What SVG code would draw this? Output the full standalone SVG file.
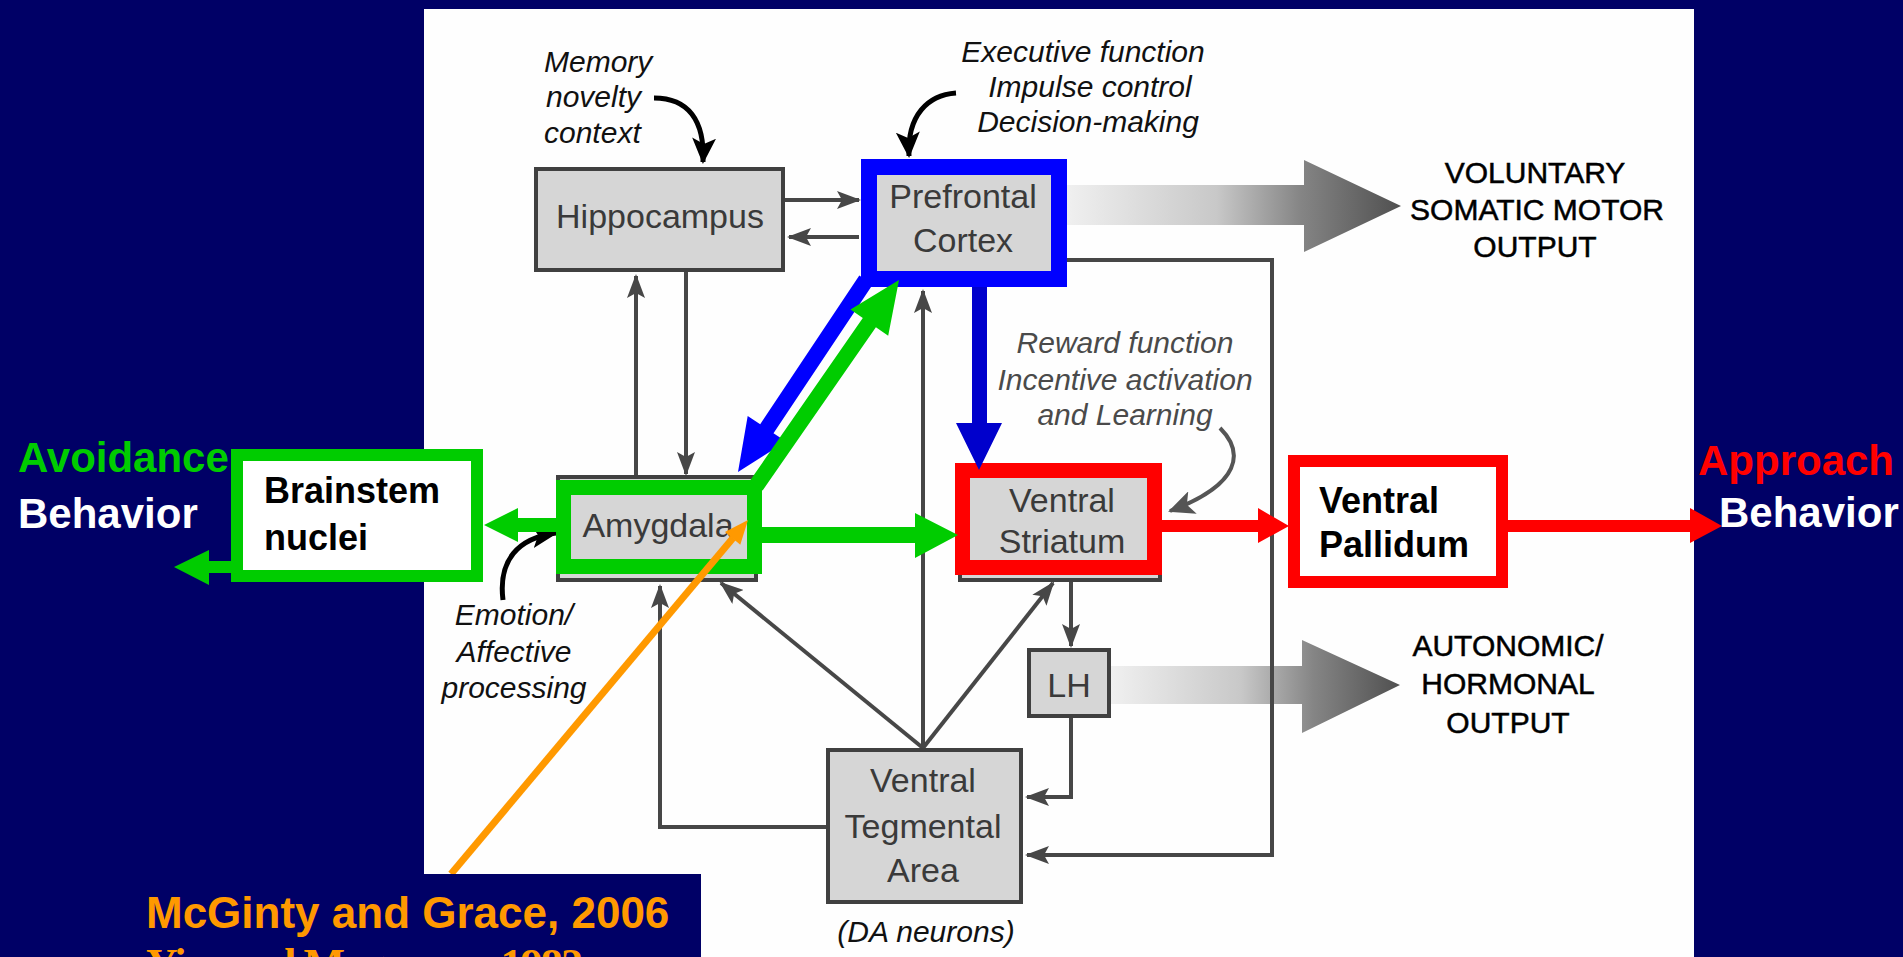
<svg xmlns="http://www.w3.org/2000/svg" width="1903" height="957" viewBox="0 0 1903 957">
<style>
.gbox{fill:#d6d6d6;stroke:#404040;stroke-width:4}
.glabel{font-family:"Liberation Sans",Arial,sans-serif;font-size:34px;fill:#3a3a3a;text-anchor:middle}
.note{font-family:"Liberation Sans",Arial,sans-serif;font-size:30px;font-style:italic;fill:#111}
.notegray{font-family:"Liberation Sans",Arial,sans-serif;font-size:30px;font-style:italic;fill:#4a4a4a;text-anchor:middle}
.out{font-family:"Liberation Sans",Arial,sans-serif;font-size:30px;fill:#000;stroke:#000;stroke-width:0.5;text-anchor:middle}
.bold{font-family:"Liberation Sans",Arial,sans-serif;font-weight:bold;font-size:36px;fill:#000}
.slide{font-family:"Liberation Sans",Arial,sans-serif;font-weight:bold;font-size:42px}
.conn{fill:none;stroke:#474747;stroke-width:4;marker-end:url(#ah)}
.curve{fill:none;stroke:#000;stroke-width:5;marker-end:url(#ahk)}
</style>
<defs>
<marker id="ah" markerUnits="userSpaceOnUse" viewBox="0 0 24 18" refX="22" refY="9" markerWidth="24" markerHeight="18" orient="auto">
<path d="M0,0 L24,9 L0,18 L5,9 Z" fill="#474747"/>
</marker>
<marker id="ahk" markerUnits="userSpaceOnUse" viewBox="0 0 26 24" refX="24" refY="12" markerWidth="26" markerHeight="24" orient="auto">
<path d="M0,0 L26,12 L0,24 L6,12 Z" fill="#000"/>
</marker>
<marker id="ahg" markerUnits="userSpaceOnUse" viewBox="0 0 26 24" refX="24" refY="12" markerWidth="26" markerHeight="24" orient="auto">
<path d="M0,0 L26,12 L0,24 L6,12 Z" fill="#555"/>
</marker>
<linearGradient id="bigg" x1="0" y1="0" x2="1" y2="0">
<stop offset="0" stop-color="#f0f0f0"/>
<stop offset="0.45" stop-color="#c8c8c8"/>
<stop offset="0.7" stop-color="#858585"/>
<stop offset="1" stop-color="#505050"/>
</linearGradient>
</defs>

<rect x="0" y="0" width="1903" height="957" fill="#000066"/>
<rect x="424" y="9" width="1270" height="948" fill="#fefefe"/>

<g id="big-arrows">
<polygon points="1066,185 1304,185 1304,160 1401,206 1304,252 1304,225 1066,225" fill="url(#bigg)"/>
<polygon points="1111,666 1302,666 1302,640 1400,685 1302,733 1302,704 1111,704" fill="url(#bigg)"/>
</g>

<g id="connectors">
<path class="conn" d="M785 200 H859"/>
<path class="conn" d="M859 237 H789"/>
<path class="conn" d="M636 477 V276"/>
<path class="conn" d="M686 272 V474"/>
<path class="conn" d="M923 748 V291"/>
<path class="conn" d="M923 748 L721 583"/>
<path class="conn" d="M923 748 L1053 583"/>
<path class="conn" d="M826 827 H660 V586"/>
<path class="conn" d="M1071 580 V646"/>
<path class="conn" d="M1071 718 V797 H1027"/>
<path class="conn" d="M1067 260 H1272 V855 H1027"/>
<path d="M1220 428 C1244 452 1242 484 1170 511" fill="none" stroke="#555" stroke-width="4" marker-end="url(#ahg)"/>
<path class="curve" d="M654 98 C688 98 705 120 703 162"/>
<path class="curve" d="M956 93 C928 95 907 115 909 156"/>
<path class="curve" d="M503 600 C498 560 518 538 556 533"/>
</g>

<g id="hippocampus">
<rect class="gbox" x="536" y="169" width="247" height="101"/>
<text class="glabel" x="660" y="228">Hippocampus</text>
</g>

<g id="prefrontal-cortex">
<rect x="869" y="167" width="190" height="112" fill="#d6d6d6" stroke="#0000ff" stroke-width="16"/>
<text class="glabel" x="963" y="208">Prefrontal</text>
<text class="glabel" x="963" y="252">Cortex</text>
</g>

<g id="amygdala">
<rect class="gbox" x="558" y="477" width="198" height="103"/>
<rect x="563.5" y="487.5" width="191" height="79" fill="none" stroke="#00cc00" stroke-width="15"/>
<text class="glabel" x="658" y="537">Amygdala</text>
</g>

<g id="ventral-striatum">
<rect class="gbox" x="960" y="466" width="200" height="114"/>
<rect x="962.5" y="470.5" width="192" height="97" fill="none" stroke="#ff0000" stroke-width="15"/>
<text class="glabel" x="1062" y="512">Ventral</text>
<text class="glabel" x="1062" y="553">Striatum</text>
</g>

<g id="lh">
<rect class="gbox" x="1029" y="650" width="80" height="66"/>
<text class="glabel" x="1069" y="697">LH</text>
</g>

<g id="vta">
<rect class="gbox" x="828" y="750" width="193" height="152"/>
<text class="glabel" x="923" y="792">Ventral</text>
<text class="glabel" x="923" y="838">Tegmental</text>
<text class="glabel" x="923" y="882">Area</text>
<text class="notegray" x="926" y="942" style="fill:#111">(DA neurons)</text>
</g>

<g id="brainstem">
<rect x="237" y="455" width="240" height="121" fill="#fff" stroke="#00cc00" stroke-width="12"/>
<text class="bold" x="264" y="503">Brainstem</text>
<text class="bold" x="264" y="550">nuclei</text>
</g>

<g id="ventral-pallidum">
<rect x="1294" y="461" width="208" height="121" fill="#fff" stroke="#ff0000" stroke-width="12"/>
<text class="bold" x="1319" y="513">Ventral</text>
<text class="bold" x="1319" y="557">Pallidum</text>
</g>

<g id="labels">
<text class="note" x="544" y="72">Memory</text>
<text class="note" x="546" y="107">novelty</text>
<text class="note" x="544" y="143">context</text>
<text class="note" x="1083" y="62" text-anchor="middle">Executive function</text>
<text class="note" x="1090" y="97" text-anchor="middle">Impulse control</text>
<text class="note" x="1088" y="132" text-anchor="middle">Decision-making</text>
<text class="note" x="514" y="625" text-anchor="middle">Emotion/</text>
<text class="note" x="514" y="662" text-anchor="middle">Affective</text>
<text class="note" x="514" y="698" text-anchor="middle">processing</text>
<text class="notegray" x="1125" y="353">Reward function</text>
<text class="notegray" x="1125" y="390">Incentive activation</text>
<text class="notegray" x="1125" y="425">and Learning</text>
<text class="out" x="1535" y="183">VOLUNTARY</text>
<text class="out" x="1537" y="220">SOMATIC MOTOR</text>
<text class="out" x="1535" y="257">OUTPUT</text>
<text class="out" x="1508" y="656">AUTONOMIC/</text>
<text class="out" x="1508" y="694">HORMONAL</text>
<text class="out" x="1508" y="733">OUTPUT</text>
</g>

<g id="highlight-arrows">
<polygon points="762,527 915,527 915,513 958,535 915,558 915,543 762,543" fill="#00cc00"/>
<polygon points="556,518 518,518 518,508 484,525 518,542 518,532 556,532" fill="#00cc00"/>
<polygon points="231,561 209,561 209,550 174,567 209,585 209,573 231,573" fill="#00cc00"/>
<polygon points="1162,520 1258,520 1258,508 1289,526 1258,543 1258,532 1162,532" fill="#ff0000"/>
<polygon points="1508,520 1690,520 1690,508 1722,526 1690,543 1690,532 1508,532" fill="#ff0000"/>
<polygon points="972,287 987,287 987,423 1002,423 979,470 956,423 972,423" fill="#0000cc"/>
<polygon points="872.7,284.4 773.5,433.2 786,441.5 738,472 747.7,415.9 760.2,424.3 859.3,275.6" fill="#0000ff"/>
<polygon points="762.6,490.6 875.9,327.3 888.2,335.8 899,280 850.5,309.6 862.8,318.1 749.4,481.4" fill="#00cc00"/>
<line x1="451" y1="874" x2="733" y2="538" stroke="#ff9900" stroke-width="7"/>
<polygon points="748,520 740.3,544.8 724.9,532" fill="#ff9900"/>
</g>

<g id="slide-text">
<text class="slide" x="18" y="472" fill="#00cc00">Avoidance</text>
<text class="slide" x="18" y="528" fill="#fff">Behavior</text>
<text class="slide" x="1698" y="475" fill="#ff0000">Approach</text>
<text class="slide" x="1719" y="527" fill="#fff">Behavior</text>
<rect x="0" y="874" width="701" height="83" fill="#000066"/>
<text x="146" y="928" font-family="'Liberation Sans',Arial,sans-serif" font-weight="bold" font-size="44" fill="#ff9900">McGinty and Grace, 2006</text>
<text x="146" y="979" font-family="'Liberation Serif','Times New Roman',serif" font-weight="bold" font-size="44" fill="#ff9900" textLength="437" lengthAdjust="spacing">Yim and Mogenson, 1982</text>
</g>
</svg>
